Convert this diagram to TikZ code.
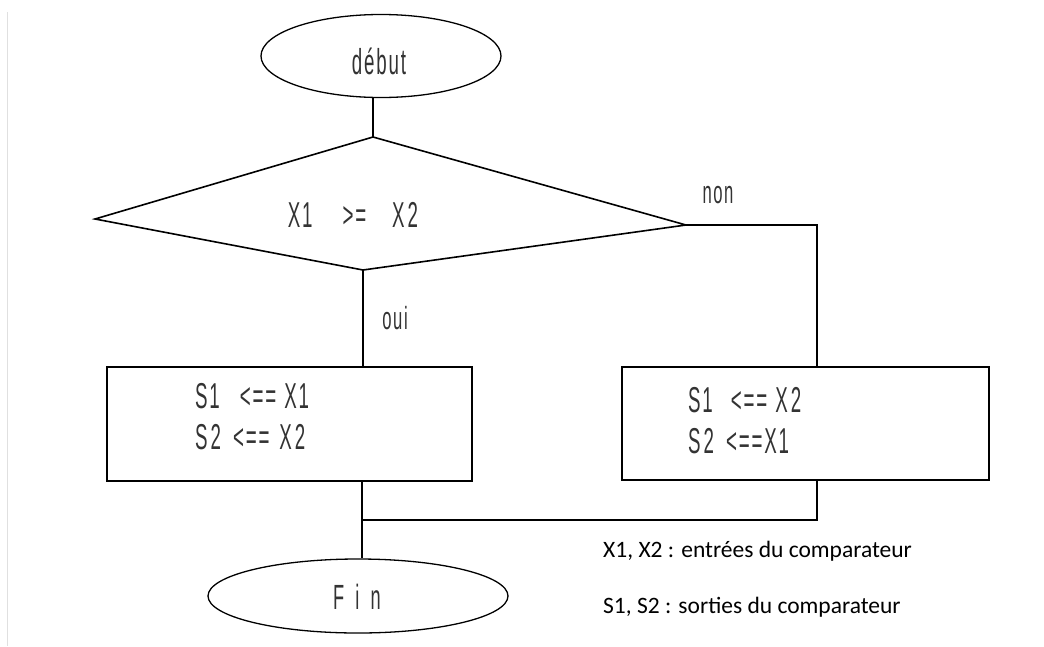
\documentclass[tikz,border=0pt]{standalone}
\usepackage{fontspec}
\usetikzlibrary{shapes.geometric}
\setmainfont{Carlito}
\newfontfamily\cf[FakeStretch=0.52,LetterSpace=5]{Liberation Sans}
\newfontfamily\cfw[FakeStretch=0.52,LetterSpace=32]{Liberation Sans}
\begin{document}
\begin{tikzpicture}[x=1pt,y=-1pt,
  line/.style={line width=1.6pt},
  term/.style={ellipse,draw,line width=1.3pt,inner sep=0pt},
  proc/.style={rectangle,draw,line width=1.6pt,inner sep=0pt},
  ftxt/.style={font=\cf\fontsize{36}{41}\selectfont,text=black!80,inner sep=0pt},
  lbl/.style={font=\fontsize{23.5}{28}\selectfont,inner sep=0pt,anchor=west}]
\useasboundingbox (0,0) rectangle (1044,646);
\draw[black!12,line width=1pt] (7,12) -- (7,646);
% terminals
\node[term,minimum width=240pt,minimum height=83pt] (debut) at (381,56) {};
\node[ftxt] (debutt) at (379,61) {début};
\node[term,minimum width=300pt,minimum height=74pt] (fin) at (358,596) {};
\node[ftxt,font=\cfw\fontsize{35}{40}\selectfont] (fint) at (357,597) {Fin};
% decision
\coordinate (dT) at (373,137);
\coordinate (dL) at (95,219);
\coordinate (dB) at (363,270);
\coordinate (dR) at (686,225);
\draw[line] (dT) -- (dR) -- (dB) -- (dL) -- cycle;
\node[ftxt] (cond) at (353,215) {X1\hspace{30pt}>=\hspace{26pt}X\hspace{3pt}2};
% process boxes
\node[proc,minimum width=365pt,minimum height=114pt] (lbox) at (289.5,424) {};
\node[ftxt,anchor=west,align=left] (ltxt) at (195,417) {S1\hspace{20pt}<==\hspace{8pt}X1\\S\hspace{3pt}2\hspace{12pt}<==\hspace{10pt}X\hspace{3pt}2};
\node[proc,minimum width=367pt,minimum height=113pt] (rbox) at (805.5,423.5) {};
\node[ftxt,anchor=west,align=left] (rtxt) at (688,421) {S1\hspace{18pt}<==\hspace{8pt}X\hspace{3pt}2\\S\hspace{3pt}2\hspace{12pt}<==X1};
% labels
\node[ftxt,font=\cf\fontsize{32}{36}\selectfont] (non) at (718,195) {non};
\node[ftxt,font=\cf\fontsize{32}{36}\selectfont] (oui) at (395,318) {oui};
% connectors
\coordinate (c1) at (817,225);
\coordinate (j) at (362,520);
\draw[line] (dT) -- (dT |- debut.south);
\draw[line] (dR) -- (c1) -- (c1 |- rbox.north);
\draw[line] (dB) -- (dB |- lbox.north);
\draw[line] (j |- lbox.south) -- (j |- fin.north);
\draw[line] (c1 |- rbox.south) -- (c1 |- j) -- (j);
% legend
\node[lbl] (leg1) at (603,551) {X1, X2 : entrées du comparateur};
\node[lbl] (leg2) at (603,607) {S1, S2 : sorties du comparateur};
\end{tikzpicture}
\end{document}
